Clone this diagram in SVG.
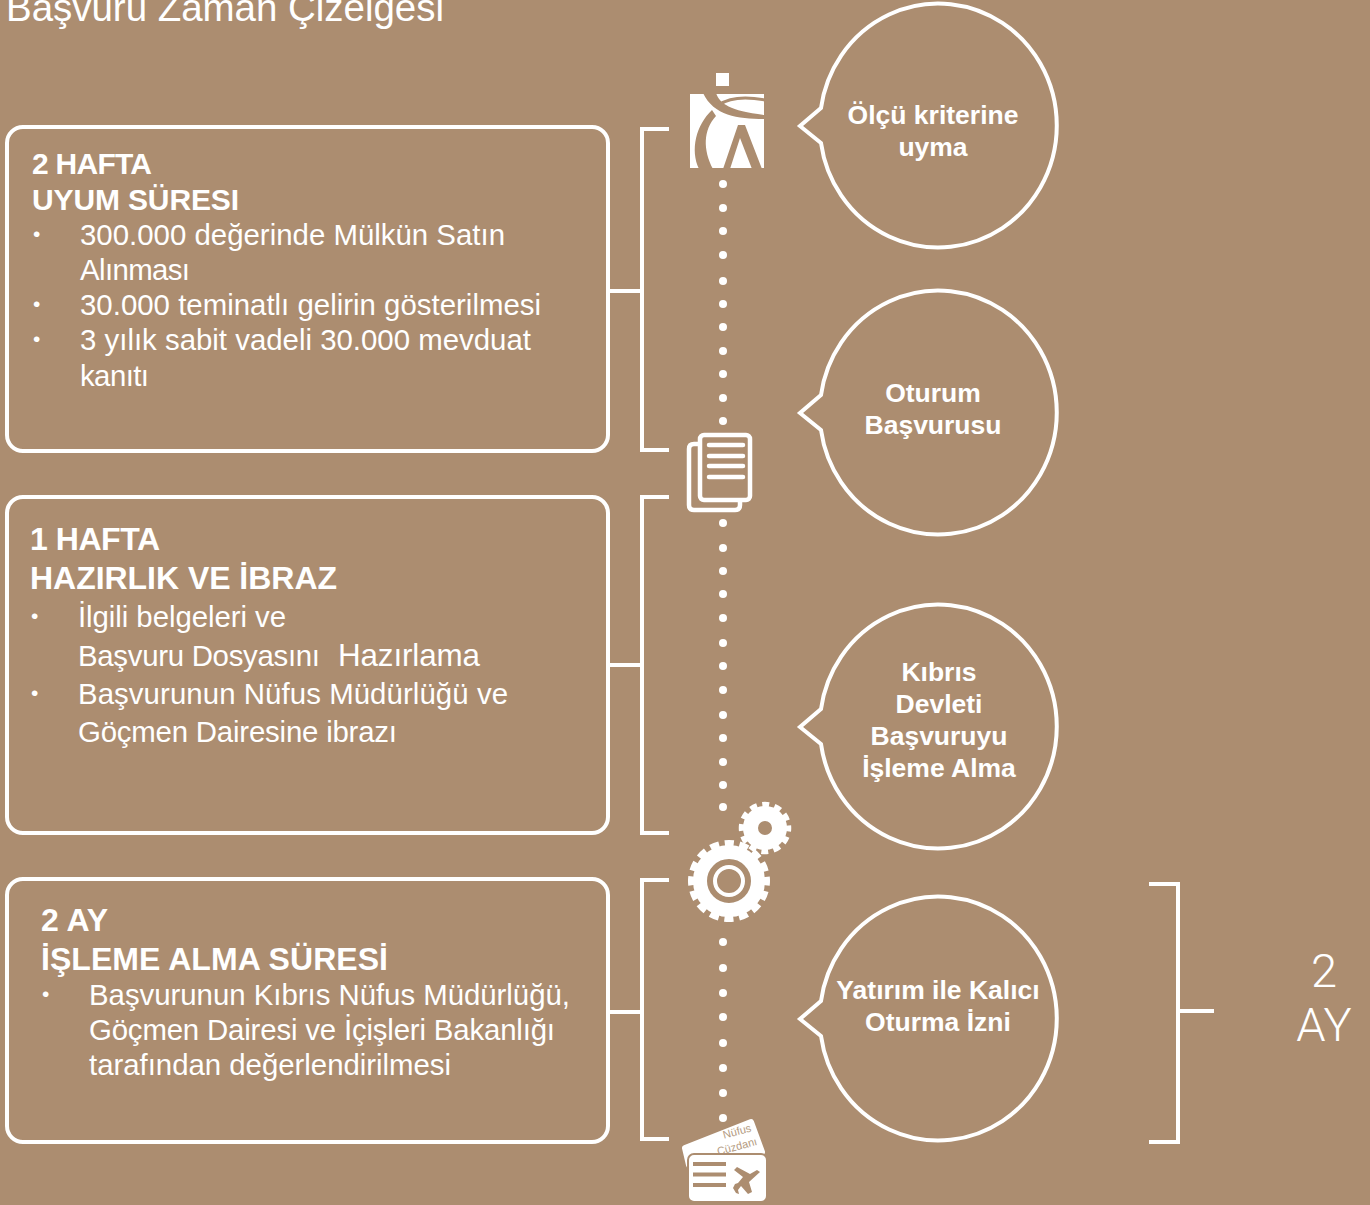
<svg xmlns="http://www.w3.org/2000/svg" width="1370" height="1205" viewBox="0 0 1370 1205">
<style>
text{font-family:"Liberation Sans",Arial,sans-serif;fill:#fff}
.box,.br,.bub{fill:none;stroke:#fff;stroke-width:4}
.h{font-size:30px;font-weight:700}
.h2{font-size:32px;font-weight:700}
.t{font-size:29.400px}
.m{font-size:21px}
.b{font-size:26.500px;font-weight:700;text-anchor:middle}
.dot{fill:#fff}
.big{font-family:Roboto,"Liberation Sans",sans-serif;font-size:47px;font-weight:300;text-anchor:middle}
.card{font-size:11px;fill:#b39a80}
</style>
<defs>
<path id="bubble" d="M821,108 L800,126 L821,143 A118.500,122 0 1 0 821,108 Z" class="bub"/>
</defs>
<rect width="1370" height="1205" fill="#ac8d70"/>
<text id="title" x="6" y="21" style="font-size:38.500px" textLength="438">Başvuru Zaman Çizelgesi</text>
<g id="connectors">
<path class="br" d="M669,129H642V450H669M609,291H642"/>
<path class="br" d="M669,497H642V833H669M609,665H642"/>
<path class="br" d="M669,880H642V1139H669M609,1012H642"/>
<path class="br" d="M1149,884H1178V1142H1149M1178,1011H1214"/>
<g class="dot">
<circle cx="723" cy="184" r="4"/><circle cx="723" cy="208" r="4"/><circle cx="723" cy="231" r="4"/><circle cx="723" cy="255" r="4"/><circle cx="723" cy="281" r="4"/><circle cx="723" cy="304" r="4"/><circle cx="723" cy="327" r="4"/><circle cx="723" cy="351" r="4"/><circle cx="723" cy="374" r="4"/><circle cx="723" cy="398" r="4"/><circle cx="723" cy="421" r="4"/>
<circle cx="723" cy="523" r="4"/><circle cx="723" cy="548" r="4"/><circle cx="723" cy="571" r="4"/><circle cx="723" cy="594" r="4"/><circle cx="723" cy="618" r="4"/><circle cx="723" cy="643" r="4"/><circle cx="723" cy="666" r="4"/><circle cx="723" cy="690" r="4"/><circle cx="723" cy="715" r="4"/><circle cx="723" cy="738" r="4"/><circle cx="723" cy="762" r="4"/><circle cx="723" cy="785" r="4"/><circle cx="723" cy="807" r="4"/>
<circle cx="723" cy="942" r="4"/><circle cx="723" cy="968" r="4"/><circle cx="723" cy="993" r="4"/><circle cx="723" cy="1017" r="4"/><circle cx="723" cy="1043" r="4"/><circle cx="723" cy="1068" r="4"/><circle cx="723" cy="1093" r="4"/><circle cx="723" cy="1118" r="4"/>
</g>
</g>
<g id="box1">
<rect class="box" x="7" y="127" width="601" height="324" rx="16"/>
<text class="h" x="32" y="174" textLength="120">2 HAFTA</text>
<text class="h" x="32" y="210" textLength="207">UYUM SÜRESI</text>
<text class="m" x="33" y="241">•</text><text class="t" x="80" y="245" textLength="425">300.000 değerinde Mülkün Satın</text>
<text class="t" x="80" y="280" textLength="110">Alınması</text>
<text class="m" x="33" y="311">•</text><text class="t" x="80" y="315" textLength="461">30.000 teminatlı gelirin gösterilmesi</text>
<text class="m" x="33" y="346">•</text><text class="t" x="80" y="350" textLength="451">3 yılık sabit vadeli 30.000 mevduat</text>
<text class="t" x="80" y="386" textLength="69">kanıtı</text>
</g>
<g id="box2">
<rect class="box" x="7" y="497" width="601" height="336" rx="16"/>
<text class="h2" x="30" y="550" textLength="130">1 HAFTA</text>
<text class="h2" x="30" y="589" textLength="307">HAZIRLIK VE İBRAZ</text>
<text class="m" x="31" y="623">•</text><text class="t" x="78" y="627" textLength="208">İlgili belgeleri ve</text>
<text class="t" x="78" y="666" textLength="242">Başvuru Dosyasını</text><text x="338" y="666" style="font-size:31.400px" textLength="142">Hazırlama</text>
<text class="m" x="31" y="700">•</text><text class="t" x="78" y="704" textLength="430">Başvurunun Nüfus Müdürlüğü ve</text>
<text class="t" x="78" y="742" textLength="319">Göçmen Dairesine ibrazı</text>
</g>
<g id="box3">
<rect class="box" x="7" y="879" width="601" height="263" rx="16"/>
<text class="h2" x="41" y="931" textLength="67">2 AY</text>
<text class="h2" x="41" y="970" textLength="347">İŞLEME ALMA SÜRESİ</text>
<text class="m" x="42" y="1001">•</text><text class="t" x="89" y="1005" textLength="481">Başvurunun Kıbrıs Nüfus Müdürlüğü,</text>
<text class="t" x="89" y="1040" textLength="466">Göçmen Dairesi ve İçişleri Bakanlığı</text>
<text class="t" x="89" y="1075" textLength="362">tarafından değerlendirilmesi</text>
</g>
<g id="bubble1"><use href="#bubble"/><text class="b" x="933" y="124">Ölçü kriterine</text><text class="b" x="933" y="156">uyma</text></g>
<g id="bubble2"><use href="#bubble" y="287"/><text class="b" x="933" y="402">Oturum</text><text class="b" x="933" y="434">Başvurusu</text></g>
<g id="bubble3"><use href="#bubble" y="601"/><text class="b" x="939" y="681">Kıbrıs</text><text class="b" x="939" y="713">Devleti</text><text class="b" x="939" y="745">Başvuruyu</text><text class="b" x="939" y="777">İşleme Alma</text></g>
<g id="bubble4"><use href="#bubble" y="893"/><text class="b" x="938" y="999">Yatırım ile Kalıcı</text><text class="b" x="938" y="1031">Oturma İzni</text></g>
<g id="duration"><text class="big" x="1324" y="987">2</text><text class="big" x="1324" y="1041">AY</text></g>
<g id="icon-logo">
<rect x="716" y="73" width="13" height="13" fill="#fff"/>
<rect x="690" y="94" width="74" height="74" fill="#fff"/>
<path fill="#ac8d70" d="M703,93H716C720,104 730,111 765,115V119C738,119 714,116 703,93Z"/>
<path fill="none" stroke="#ac8d70" stroke-width="3" d="M719,105C730,97 748,97 765,100"/>
<path fill="#ac8d70" d="M712,110C696,125 690,150 699,169H713C703,150 703,130 716,116Z"/>
<path fill="#ac8d70" d="M738,125H745L762,169H752L740,138L730,169H723Z"/>
</g>
<g id="icon-docs" fill="none" stroke="#fff" stroke-width="4.500">
<path d="M698,444H694Q689,444 689,449V505Q689,510 694,510H735Q740,510 740,505V501"/>
<rect x="700" y="435" width="50" height="65" rx="4"/>
<path stroke-linecap="round" d="M709,445H743M709,456H743M709,466H743M709,477H743"/>
</g>
<g id="icon-gears" fill="none" stroke="#fff">
<circle cx="729" cy="881" r="37.500" stroke-width="7" stroke-dasharray="9 5.726" stroke-dashoffset="4.500"/>
<circle cx="729" cy="881" r="29" stroke-width="14"/>
<circle cx="729" cy="881" r="14" stroke-width="4"/>
<circle cx="765" cy="828" r="23.500" stroke-width="5.500" stroke-dasharray="7 5.305" stroke-dashoffset="3.500"/>
<circle cx="765" cy="828" r="14.500" stroke-width="15"/>
</g>
<g id="icon-card">
<path fill="#fff" stroke="#fff" stroke-width="6" stroke-linejoin="round" d="M685,1148L751,1122L762,1152L689,1165Z"/>
<text class="card" x="738" y="1135" text-anchor="middle" transform="rotate(-15 738 1135)">Nüfus</text>
<text class="card" x="738" y="1150" text-anchor="middle" transform="rotate(-15 738 1150)">Cüzdanı</text>
<rect x="688" y="1154" width="79" height="48" rx="6" fill="#fff" stroke="#ac8d70" stroke-width="2"/>
<path stroke="#ac8d70" stroke-width="4" d="M693,1164H726M693,1174.500H726M693,1185H726"/>
<path fill="#ac8d70" d="M760,1172L749,1182L752,1192L748,1194L741,1186L738,1190L739,1194L736,1193L733,1188L735,1184L738,1183L743,1177L734,1170L737,1167L750,1174L757,1170Z"/>
</g>
</svg>
